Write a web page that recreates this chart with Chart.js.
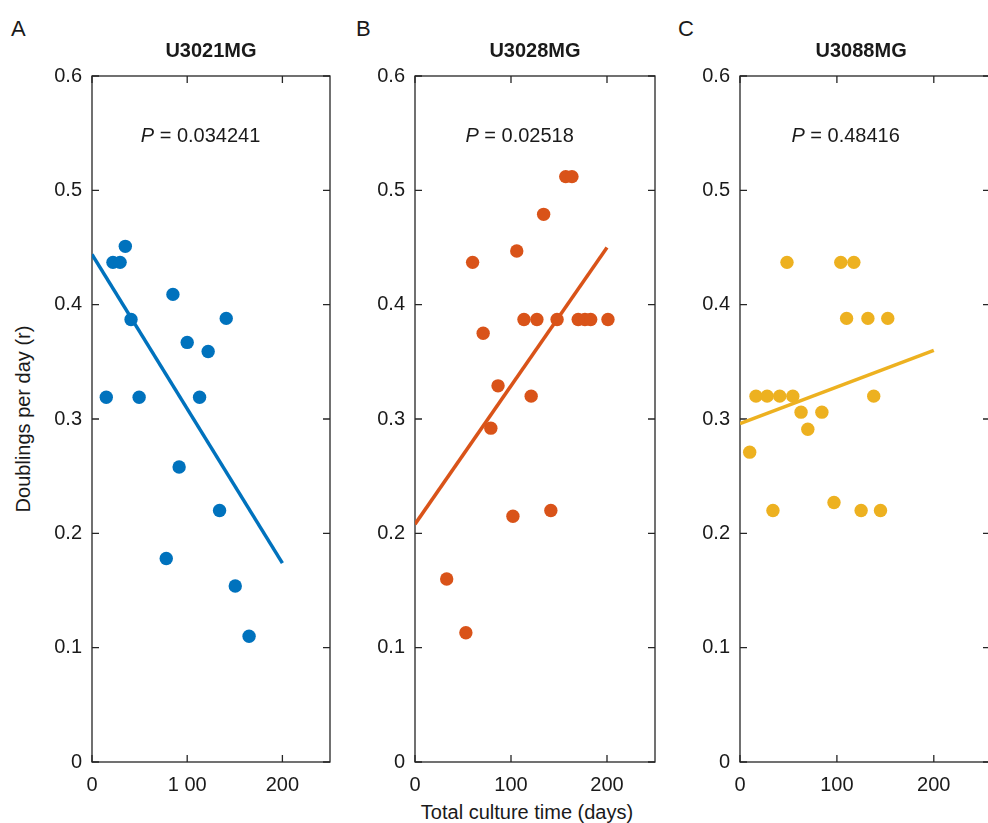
<!DOCTYPE html>
<html>
<head>
<meta charset="utf-8">
<script src="https://cdn.jsdelivr.net/npm/chart.js@4"></script>
<style>
  body { margin:0; width:988px; height:823px; overflow:hidden; position:relative; background:#fff;
         font-family:"Liberation Sans", Arial, Helvetica, sans-serif; color:#1a1a1a; }
  canvas { position:absolute; top:0; }
  .letter { position:absolute; font-size:22px; top:16px; }
  #ylab { position:absolute; left:23px; top:419px; font-size:20px; white-space:nowrap;
          transform:translate(-50%,-50%) rotate(-90deg); }
  #xlab { position:absolute; left:527px; top:812px; font-size:20px; white-space:nowrap;
          transform:translate(-50%,-50%); }
</style>
</head>
<body>
<div class="letter" style="left:11px">A</div>
<div class="letter" style="left:356px">B</div>
<div class="letter" style="left:678px">C</div>
<div id="ylab">Doublings per day (r)</div>
<div id="xlab">Total culture time (days)</div>
<canvas id="chartA" width="300" height="823" style="left:40px"></canvas>
<canvas id="chartB" width="302" height="823" style="left:363px"></canvas>
<canvas id="chartC" width="320" height="823" style="left:688px"></canvas>
<script>
// U3021MG
const xA = [15, 22, 29.5, 35, 41, 49.5, 85, 100, 113, 122, 141, 91.5, 134, 78, 150.5, 165];
const yA = [0.319, 0.437, 0.437, 0.451, 0.387, 0.319, 0.409, 0.367, 0.319, 0.359, 0.388, 0.258, 0.220, 0.178, 0.154, 0.110];
// U3028MG
const xB = [157, 163.5, 134, 106, 60, 71, 113.5, 127, 148, 170, 177, 183, 201, 86.5, 121, 79, 102, 141.5, 33, 53];
const yB = [0.512, 0.512, 0.479, 0.447, 0.437, 0.375, 0.387, 0.387, 0.387, 0.387, 0.387, 0.387, 0.387, 0.329, 0.320, 0.292, 0.215, 0.220, 0.160, 0.113];
// U3088MG
const xC = [48.5, 104, 117.5, 110, 132, 152.5, 16.5, 28, 41, 54.5, 138, 63, 84.5, 70, 10, 34, 97, 125, 145];
const yC = [0.437, 0.437, 0.437, 0.388, 0.388, 0.388, 0.320, 0.320, 0.320, 0.320, 0.320, 0.306, 0.306, 0.291, 0.271, 0.220, 0.227, 0.220, 0.220];

// least squares lines, end points at x = 0 and 200
const fitX = [0, 200];
const fitA = [0.444, 0.174];
const fitB = [0.208, 0.450];
const fitC = [0.296, 0.360];

const titles = ["U3021MG", "U3028MG", "U3088MG"];
const pValues = ["0.034241", "0.02518", "0.48416"];

const xTicks = [0, 100, 200];
const xTickLabelsA = ["0", "1 00", "200"];
const xTickLabels = ["0", "100", "200"];
const yTicks = [0, 0.1, 0.2, 0.3, 0.4, 0.5, 0.6];
const yTickLabels = ["0", "0.1", "0.2", "0.3", "0.4", "0.5", "0.6"];

const FONT = '"Liberation Sans", Arial, Helvetica, sans-serif';
const AXIS = '#262626';
const TXT = '#1a1a1a';

const decor = {
  id: 'decor',
  beforeDatasetsDraw(chart) {
    const ctx = chart.ctx, a = chart.chartArea;
    const sx = chart.scales.x, sy = chart.scales.y;
    ctx.save();
    ctx.strokeStyle = AXIS;
    ctx.lineWidth = 1.3;
    ctx.strokeRect(a.left, a.top, a.right - a.left, a.bottom - a.top);
    ctx.beginPath();
    xTicks.forEach(v => {
      const px = sx.getPixelForValue(v);
      ctx.moveTo(px, a.bottom); ctx.lineTo(px, a.bottom - 7);
      ctx.moveTo(px, a.top); ctx.lineTo(px, a.top + 7);
    });
    yTicks.forEach(v => {
      const py = sy.getPixelForValue(v);
      ctx.moveTo(a.left, py); ctx.lineTo(a.left + 7, py);
      ctx.moveTo(a.right, py); ctx.lineTo(a.right - 7, py);
    });
    ctx.stroke();
    ctx.restore();
  },
  afterDraw(chart, args, opts) {
    const ctx = chart.ctx;
    const sx = chart.scales.x, sy = chart.scales.y;
    ctx.save();
    ctx.fillStyle = TXT;
    ctx.textBaseline = 'middle';
    // panel title
    ctx.font = 'bold 20px ' + FONT;
    ctx.textAlign = 'center';
    ctx.fillText(opts.title, sx.getPixelForValue(125), 51);
    // P value
    const cx = sx.getPixelForValue(opts.pX), cy = sy.getPixelForValue(opts.pY);
    ctx.textAlign = 'left';
    ctx.font = 'italic 20px ' + FONT;
    const wP = ctx.measureText('P').width;
    const rest = ' = ' + opts.p;
    ctx.font = '20px ' + FONT;
    const wR = ctx.measureText(rest).width;
    const x0 = cx - (wP + wR) / 2;
    ctx.font = 'italic 20px ' + FONT;
    ctx.fillText('P', x0, cy);
    ctx.font = '20px ' + FONT;
    ctx.fillText(rest, x0 + wP, cy);
    ctx.restore();
  }
};

function makePanel(id, xs, ys, fit, color, title, p, pX, xMax, xLabels, padRight) {
  new Chart(document.getElementById(id), {
    type: 'scatter',
    data: {
      datasets: [{
        type: 'line',
        data: fitX.map((x, i) => ({ x: x, y: fit[i] })),
        borderColor: color,
        borderWidth: 3.5,
        pointRadius: 0,
        fill: false
      }, {
        data: xs.map((x, i) => ({ x: x, y: ys[i] })),
        backgroundColor: color,
        borderWidth: 0,
        pointRadius: 6.7
      }]
    },
    options: {
      responsive: false,
      animation: false,
      layout: { padding: { top: 76, bottom: 21, right: padRight, left: 0 } },
      plugins: {
        legend: { display: false },
        tooltip: { enabled: false },
        decor: { title: title, p: p, pX: pX, pY: 0.547 }
      },
      scales: {
        x: {
          type: 'linear', min: 0, max: xMax,
          grid: { display: false, drawTicks: false },
          border: { display: false },
          afterBuildTicks: s => { s.ticks = xTicks.map(v => ({ value: v })); },
          afterFit: s => { s.height = 40; },
          ticks: {
            padding: 11, maxRotation: 0, autoSkip: false, color: TXT,
            font: { family: FONT, size: 20 },
            callback: (v, i) => xLabels[i]
          }
        },
        y: {
          type: 'linear', min: 0, max: 0.6,
          grid: { display: false, drawTicks: false },
          border: { display: false },
          afterBuildTicks: s => { s.ticks = yTicks.map(v => ({ value: v })); },
          afterFit: s => { s.width = 52; },
          ticks: {
            padding: 10, color: TXT,
            font: { family: FONT, size: 20 },
            callback: (v, i) => yTickLabels[i]
          }
        }
      }
    },
    plugins: [decor]
  });
}

makePanel('chartA', xA, yA, fitA, '#0072BD', titles[0], pValues[0], 114, 250, xTickLabelsA, 10);
makePanel('chartB', xB, yB, fitB, '#D95319', titles[1], pValues[1], 109, 250, xTickLabels, 10);
makePanel('chartC', xC, yC, fitC, '#EDB120', titles[2], pValues[2], 109, 258, xTickLabels, 18);
</script>
</body>
</html>
